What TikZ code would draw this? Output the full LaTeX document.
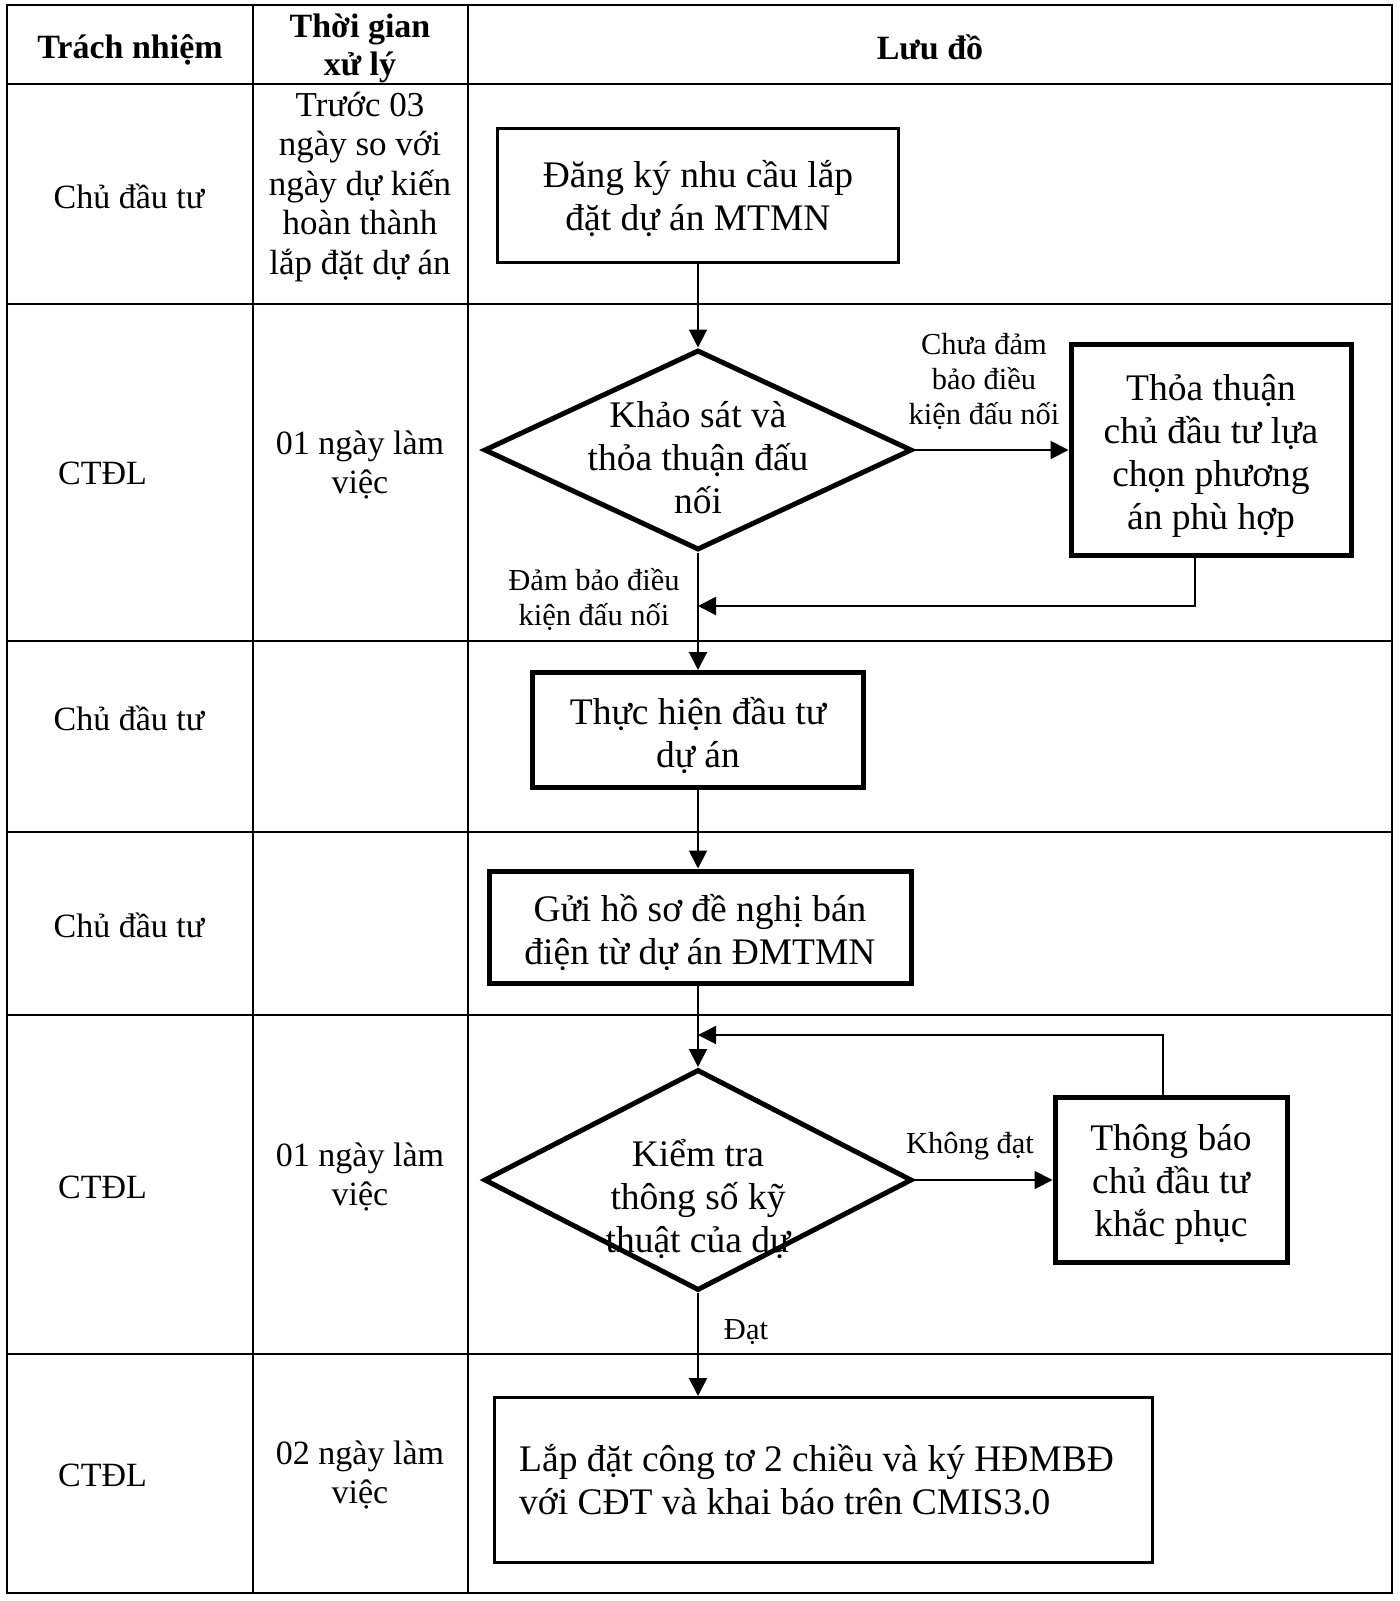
\documentclass[tikz,border=0pt]{standalone}
\usepackage{fontspec}
\setmainfont{Liberation Serif}
\usetikzlibrary{arrows.meta, shapes.geometric}

\begin{document}
\begin{tikzpicture}[
    x=1pt, y=-1pt,
    >={Triangle[length=18pt,width=18pt]},
    cell/.style={align=center, inner sep=0pt, font=\fontsize{34}{39}\selectfont},
    head/.style={align=center, inner sep=0pt, font=\fontsize{34}{38}\selectfont\bfseries},
    blk/.style={draw, line width=5pt, inner sep=0pt},
    dia/.style={draw, diamond, line width=5pt, inner sep=0pt},
    dtxt/.style={align=center, inner sep=0pt, font=\fontsize{37.5}{43}\selectfont},
    lab/.style={align=center, inner sep=0pt, font=\fontsize{30.5}{35}\selectfont},
    sig/.style={->, line width=2pt},
    rule/.style={line width=1.5pt},
  ]
  \useasboundingbox (0,0) rectangle (1400,1601);

  %% ---- table frame ---------------------------------------------------
  \draw[line width=2.5pt] (7,5) rectangle (1392,1593);
  \draw[line width=2pt] (253,5) -- (253,1593) (468,5) -- (468,1593);
  \draw[line width=2.5pt] (7,84) -- (1392,84);
  \foreach \y in {304,641,832,1015,1354}
    \draw[rule] (7,\y) -- (1392,\y);

  %% ---- header --------------------------------------------------------
  \node[head] (hR) at (130,50) {Trách nhiệm};
  \node[head] (hT) at (360,48) {Thời gian\\xử lý};
  \node[head] (hL) at (930,47) {Lưu đồ};

  %% ---- responsibility and time columns -------------------------------
  \node[cell] (r1) at (129,196) {Chủ đầu tư};
  \node[cell, anchor=west] (r2) at (58,473) {CTĐL};
  \node[cell] (r3) at (129,718) {Chủ đầu tư};
  \node[cell] (r4) at (129,925) {Chủ đầu tư};
  \node[cell, anchor=west] (r5) at (58,1187) {CTĐL};
  \node[cell, anchor=west] (r6) at (58,1475) {CTĐL};

  \node[cell, font=\fontsize{35}{39.5}\selectfont] (t1) at (360,187)
    {Trước 03\\ngày so với\\ngày dự kiến\\hoàn thành\\lắp đặt dự án};
  \node[cell] (t2) at (360,465) {01 ngày làm\\việc};
  \node[cell] (t5) at (360,1177) {01 ngày làm\\việc};
  \node[cell] (t6) at (360,1475) {02 ngày làm\\việc};

  %% ---- flow chart ----------------------------------------------------
  \node[blk, line width=3pt, minimum width=401pt, minimum height=134pt]
    (B1) at (698,195) {};
  \node[dtxt] (B1t) at (698,199) {Đăng ký nhu cầu lắp\\đặt dự án MTMN};
  \node[dia, minimum width=428pt, minimum height=200pt] (D1) at (698,450) {};
  \node[dtxt] (D1t) at (698,458) {Khảo sát và\\thỏa thuận đấu\\nối};
  \node[blk, minimum width=280pt, minimum height=211pt] (B2) at (1211,450) {};
  \node[dtxt] (B2t) at (1211,456) {Thỏa thuận\\chủ đầu tư lựa\\chọn phương\\án phù hợp};
  \node[blk, minimum width=331pt, minimum height=115pt] (B3) at (698,730) {};
  \node[dtxt] (B3t) at (698,736) {Thực hiện đầu tư\\dự án};
  \node[blk, minimum width=422pt, minimum height=112pt] (B4) at (700,927) {};
  \node[dtxt] (B4t) at (700,933) {Gửi hồ sơ đề nghị bán\\điện từ dự án ĐMTMN};
  \node[dia, minimum width=428pt, minimum height=221pt] (D2) at (698,1180) {};
  \node[dtxt] (D2t) at (698,1199) {Kiểm tra\\thông số kỹ\\thuật của dự};
  \node[blk, minimum width=232pt, minimum height=165pt] (B5) at (1171,1180) {};
  \node[dtxt] (B5t) at (1171,1184) {Thông báo\\chủ đầu tư\\khắc phục};
  \node[blk, line width=3pt, minimum width=658pt, minimum height=165pt]
    (B6) at (823,1480) {};
  \node[dtxt, align=left, anchor=west] (B6t) at (519,1480)
    {Lắp đặt công tơ 2 chiều và ký HĐMBĐ\\với CĐT và khai báo trên CMIS3.0};

  %% ---- branch labels -------------------------------------------------
  \node[lab] (l1) at (984,381) {Chưa đảm\\bảo điều\\kiện đấu nối};
  \node[lab] (l2) at (594,599) {Đảm bảo điều\\kiện đấu nối};
  \node[lab] (l3) at (970,1146) {Không đạt};
  \node[lab] (l4) at (746,1332) {Đạt};

  %% ---- connectors ----------------------------------------------------
  \coordinate (m1) at (698,606);
  \coordinate (m2) at (698,1035);
  \draw[sig] (B1) -- (D1);
  \draw[sig] (D1) -- (B2);
  \draw[sig] ([xshift=-16pt]B2.south) |- (m1);
  \draw[sig] (D1) -- (B3);
  \draw[sig] (B3) -- (B4.north -| B3.south);
  \draw[sig] (B4.south -| D2.north) -- (D2);
  \draw[sig] (D2) -- (B5);
  \draw[sig] ([xshift=-8pt]B5.north) |- (m2);
  \draw[sig] (D2.south) -- (D2.south |- B6.north);

\end{tikzpicture}
\end{document}
